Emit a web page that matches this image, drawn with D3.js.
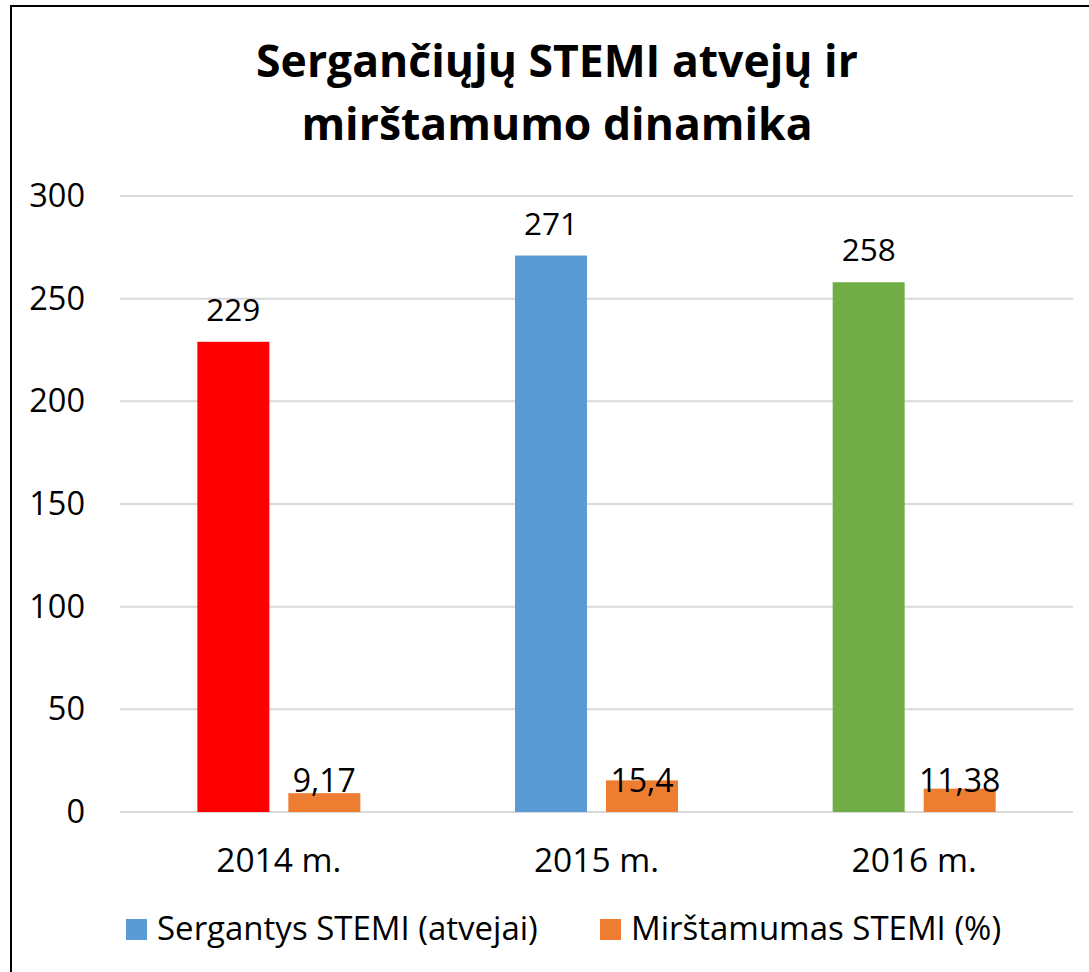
<!DOCTYPE html>
<html>
<head>
<meta charset="utf-8">
<script src="https://cdn.jsdelivr.net/npm/d3@7"></script>
<style>
  body { margin: 0; background: #fff; }
  text { font-family: "Open Sans", sans-serif; fill: #000; }
</style>
</head>
<body>
<svg id="chart" width="1089" height="972"></svg>
<script>
// data
const years = ["2014 m.", "2015 m.", "2016 m."];
const cases = [229, 271, 258];
const mortality = [9.17, 15.4, 11.38];
const mortalityLabels = ["9,17", "15,4", "11,38"];
const caseColors = ["#ff0000", "#5b9bd5", "#70ad47"];
const yTicks = [0, 50, 100, 150, 200, 250, 300];
const seriesNames = ["Sergantys STEMI (atvejai)", "Mirštamumas STEMI (%)"];
const seriesColors = ["#5b9bd5", "#ed7d31"];

const svg = d3.select("#chart");

// outer frame (only left and top edges are in view)
svg.append("rect")
  .attr("x", 11).attr("y", 6)
  .attr("width", 1200).attr("height", 1200)
  .attr("fill", "none").attr("stroke", "#000").attr("stroke-width", 2);

// title
const title = svg.append("text")
  .attr("text-anchor", "middle")
  .attr("font-weight", "bold")
  .attr("font-size", 44.5);
title.append("tspan").attr("x", 557).attr("y", 77).text("Sergančiųjų STEMI atvejų ir");
title.append("tspan").attr("x", 557).attr("y", 140).text("mirštamumo dinamika");

const x = d3.scaleBand().domain(years).range([120, 1073]);
const y = d3.scaleLinear().domain([0, 300]).range([812, 196]);
const sub = d3.scaleBand().domain([0, 1]).range([0, 163]).paddingInner(0.209);

// gridlines
svg.append("g")
  .selectAll("line")
  .data(yTicks)
  .join("line")
  .attr("x1", 120).attr("x2", 1073)
  .attr("y1", d => y(d)).attr("y2", d => y(d))
  .attr("stroke", "#d9d9d9").attr("stroke-width", 2);

// y axis labels
const yAxis = svg.append("g")
  .attr("transform", "translate(85,0)")
  .call(d3.axisLeft(y).tickValues(yTicks).tickSize(0).tickPadding(0));
yAxis.select(".domain").remove();
yAxis.selectAll("text")
  .attr("font-size", 32.5)
  .attr("font-family", "Open Sans, sans-serif")
  .attr("fill", "#000");

// x axis labels
const xAxis = svg.append("g")
  .attr("transform", "translate(0,848)")
  .call(d3.axisBottom(x).tickSize(0).tickPadding(0));
xAxis.select(".domain").remove();
xAxis.selectAll("text")
  .attr("font-size", 33.5)
  .attr("font-family", "Open Sans, sans-serif")
  .attr("fill", "#000");

const groups = svg.append("g")
  .selectAll("g")
  .data(years)
  .join("g")
  .attr("transform", d => `translate(${x(d) + x.bandwidth() / 2 - 81.5},0)`);

// case bars
groups.append("rect")
  .attr("x", sub(0))
  .attr("width", sub.bandwidth())
  .attr("y", (d, i) => y(cases[i]))
  .attr("height", (d, i) => y(0) - y(cases[i]))
  .attr("fill", (d, i) => caseColors[i]);

groups.append("text")
  .attr("text-anchor", "middle")
  .attr("font-size", 31.5)
  .attr("x", sub(0) + sub.bandwidth() / 2)
  .attr("y", (d, i) => y(cases[i]) - 21)
  .text((d, i) => cases[i]);

// mortality bars
groups.append("rect")
  .attr("x", sub(1))
  .attr("width", sub.bandwidth())
  .attr("y", (d, i) => y(mortality[i]))
  .attr("height", (d, i) => y(0) - y(mortality[i]))
  .attr("fill", seriesColors[1]);

groups.append("text")
  .attr("text-anchor", "middle")
  .attr("font-size", 32)
  .attr("x", sub(1) + sub.bandwidth() / 2)
  .attr("y", y(0) - 20)
  .text((d, i) => mortalityLabels[i]);

// legend
const legendX = [126, 600];
const legend = svg.append("g")
  .selectAll("g")
  .data(seriesNames)
  .join("g")
  .attr("transform", (d, i) => `translate(${legendX[i]},919)`);
legend.append("rect")
  .attr("width", 21).attr("height", 21)
  .attr("fill", (d, i) => seriesColors[i]);
legend.append("text")
  .attr("x", 31).attr("y", 21)
  .attr("font-size", 33)
  .text(d => d);
</script>
</body>
</html>
